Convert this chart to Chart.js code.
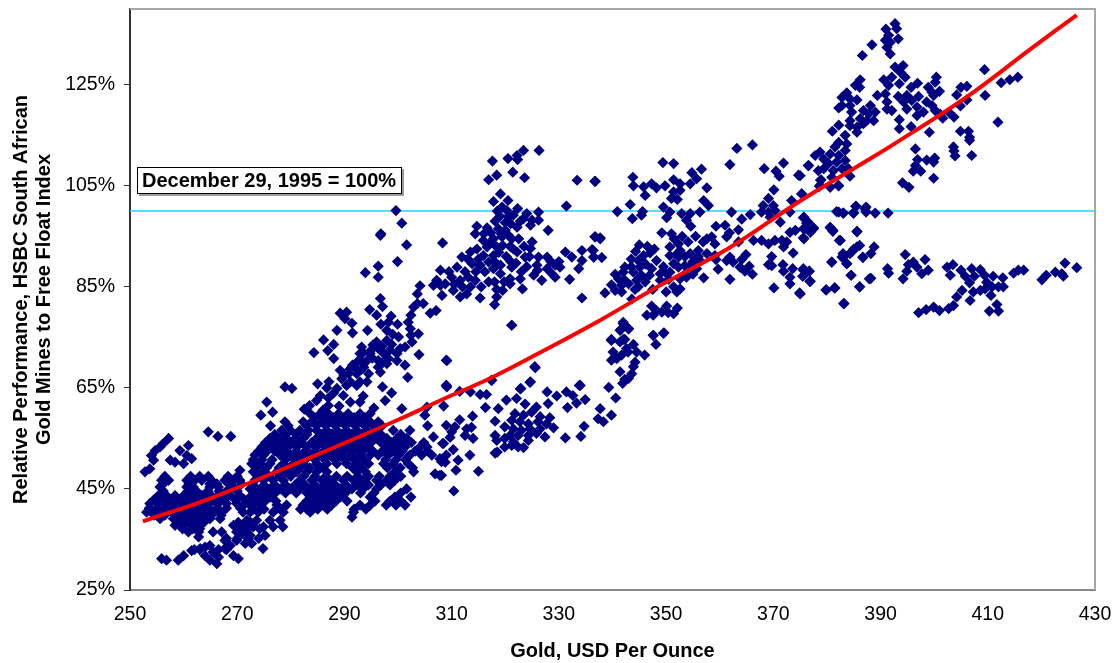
<!DOCTYPE html>
<html>
<head>
<meta charset="utf-8">
<title>Gold vs South African gold mines</title>
<script src="https://cdn.jsdelivr.net/npm/chart.js"></script>
<style>
  html, body { margin: 0; padding: 0; background: #fff; }
  canvas { display: block; }
</style>
</head>
<body>
<canvas id="chart" width="1118" height="663"></canvas>
<script>
// Tick labels
const xTicks = [250, 270, 290, 310, 330, 350, 370, 390, 410, 430];
const yTicks = [25, 45, 65, 85, 105, 125];

// Base line and fitted trend, [gold, relative performance]
const baseLine = [[250, 100], [430, 100]];
const trendLine = [[252.4, 38.6], [264.9, 43.1], [283.6, 51.2], [299.8, 58.6], [309.1, 63.1], [317.2, 66.9], [326.5, 72], [337.7, 78.4], [348.9, 85.3], [361.9, 92.8], [375, 102], [387.5, 110], [393.6, 114], [406.1, 122.6], [418.4, 132.4], [426.6, 138.8]];

// Daily readings, grouped by the part of the picture they were read from
const lowLeftArm = [[257.2,55],[256.2,54],[255.6,53.3],[254.7,52.6],[254,51.6],[254.4,50.7],[253.7,49],[252.8,48.4],[259.3,52.6],[260.9,53.6],[260.6,51.6],[261.5,51],[260,50],[258.4,50.3],[257.5,50.7],[264.6,56.3],[266.4,55.4],[268.8,55.4]];
const lowLeftBand = [[255.9,46.7],[257.2,46.7],[260.6,46.7],[262.1,46.7],[263.4,46.7],[265.2,46.7],[267.7,46.7],[269.3,46.7],[270.5,46.7],[270.5,48.7],
[255.6,45.4],[260.6,45.4],[261.8,45.4],[264.9,45.4],[266.5,45.4],[269.3,45.4],
[255.3,43.7],[256.8,43.7],[258.4,43.7],[260,43.7],[261.5,43.7],[263.4,43.7],[265.2,43.7],[266.5,43.7],[268.7,43.7],[270.5,43.7],
[253.7,42.1],[255.3,42.1],[256.8,42.1],[258.4,42.1],[260,42.1],[261.5,42.1],[263.4,42.1],[264.9,42.1],[266.5,42.1],[268,42.1],[269.9,42.1],[271.5,42.1],
[253.1,40.4],[254.7,40.4],[256.2,40.4],[257.8,40.4],[259.3,40.4],[260.9,40.4],[262.4,40.4],[264,40.4],[265.5,40.4],[267.1,40.4],[271.1,40.4],
[255.6,39.1],[258.1,39.1],[259.6,39.1],[261.2,39.1],[263.1,39.1],[264.9,39.1],[266.8,39.1],
[258.4,37.8],[260,37.8],[261.5,37.8],[262.8,37.8],[269.3,37.8],
[260.9,36.5],[262.8,36.5],[265.5,36.5],[267.1,36.5],[269.9,36.5],[271.5,36.5],[262.8,35.5]];
const lowLeftFill = [[256.5,47.5],[261.3,47.5],[263,47.5],[264.6,47.5],[268.3,47.5],[270,47.5],
[256.2,46],[261,46],[264.9,46],[266.2,46],[268.5,46],[270.8,46],
[256.2,44.6],[260.8,44.6],[262.4,44.6],[264.5,44.6],[266.6,44.6],[268,44.6],[270,44.6],
[254.5,42.9],[256,42.9],[257.6,42.9],[259.2,42.9],[260.8,42.9],[262.4,42.9],[264.2,42.9],[265.8,42.9],[267.6,42.9],[269.6,42.9],[271.3,42.9],
[253.6,41.2],[255,41.2],[256.5,41.2],[258,41.2],[259.6,41.2],[261.2,41.2],[262.8,41.2],[264.5,41.2],[266.2,41.2],[268,41.2],[270.6,41.2],
[254.5,39.8],[256.5,39.8],[258.8,39.8],[260.2,39.8],[262,39.8],[263.8,39.8],[265.2,39.8],[267,39.8],
[258.8,38.4],[260.4,38.4],[262,38.4],[263.8,38.4],[270.2,38.4],[272.5,38.4],
[259.8,37.1],[261.7,37.1],[263,37.1],[272,37.1],[274.2,37.1],[270.6,37.1],
[268,35.2],[270,35.2],[272,35.2],[274,35.2],[262,33],[263,33],[266.5,33],[268,33]];
const lowLeftBottom = [[255.9,31.2],[256.8,30.9],[259,30.9],[260,31.8],[261.5,32.8],[263.1,33.2],[264,33.5],[264.9,33.8],[264,31.8],[265.5,32.5],[264.9,30.9],[266.2,30.2],[266.5,31.5],[267.7,33.2],[268.7,33.8],[269.3,31.8],[270.2,31.2],[267.7,34.8],[269.9,34.8],[271.5,34.2],[272.7,34.2],[274.8,33.2]];
const coreTop = [[278.9,65.2],[280.2,64.9],[285,65.8],[287.1,66.2],[288.6,64.9],[290.4,65.5],[292.3,65.5],[294.2,66.2],[297.1,65.2],[298.8,64],[297.6,62.5],[289.8,63.5],[291.1,62.2],[292.9,62.2],[300.7,60.9],[305.4,61.2],[309,65.5],[286.7,65],[288,64],[285.5,63.5],[287,63],[293.5,63.4],[287,61.5],[289,61.4],[283.5,61.5],[282.5,60.8],[295.5,61],[284.8,62.5],[286,60.6]];
const coreCluster = [[275.5,62.2],[276.6,60.2],[274.4,59.6],[276.2,57.5],
[283.6,59.9],[285.5,59.9],[287,59.9],[288.9,59.9],[290.7,59.9],[292.9,59.9],[294.8,59.9],
[278.9,58.3],[282.3,58.3],[283.9,58.3],[285.8,58.3],[287.3,58.3],[289.2,58.3],[291.1,58.3],[292.9,58.3],[294.8,58.3],[296.3,58.3],
[278.3,56.6],[279.9,56.6],[281.7,56.6],[283.3,56.6],[284.8,56.6],[286.7,56.6],[288.6,56.6],[290.4,56.6],[292.3,56.6],[294.2,56.6],[295.7,56.6],[299.1,56.6],[302.2,56.6],
[276.1,55],[277.7,55],[279.2,55],[280.8,55],[282.3,55],[284.8,55],[286.7,55],[288.6,55],[290.4,55],[292.3,55],[294.2,55],[296,55],[297.9,55],[299.8,55],[301.6,55],
[274.6,53.3],[276.4,53.3],[278,53.3],[279.5,53.3],[281.1,53.3],[283,53.3],[284.8,53.3],[286.7,53.3],[288.6,53.3],[290.4,53.3],[292.3,53.3],[294.2,53.3],[297.9,53.3],[299.8,53.3],[301.3,53.3],[304.1,53.3],[305.4,53.3],
[273.3,51.7],[274.9,51.7],[278,51.7],[279.9,51.7],[281.7,51.7],[283.6,51.7],[285.5,51.7],[287.3,51.7],[289.2,51.7],[291.1,51.7],[292.9,51.7],[294.8,51.7],[296.3,51.7],[298.2,51.7],[300.1,51.7],[302.2,51.7],[304.4,51.7],[306.3,51.7],
[272.7,50],[274.3,50],[276.1,50],[278.6,50],[280.5,50],[282.3,50],[284.8,50],[286.7,50],[288.6,50],[290.4,50],[292.3,50],[294.5,50],[297.3,50],[299.1,50],[301.9,50],
[273,48.4],[274.9,48.4],[277.4,48.4],[279.2,48.4],[281.1,48.4],[283,48.4],[284.8,48.4],[286.7,48.4],[292.3,48.4],[293.9,48.4],[299.4,48.4],[302.9,48.4],
[273.3,46.7],[274.9,46.7],[276.7,46.7],[278.6,46.7],[281.7,46.7],[283.9,46.7],[285.8,46.7],[287.3,46.7],[289.8,46.7],[291.7,46.7],[293.5,46.7],[296,46.7],[297.9,46.7],[299.4,46.7],
[272.4,45],[274.3,45],[276.1,45],[278,45],[279.9,45],[281.7,45],[283.6,45],[285.5,45],[287.3,45],[289.2,45],[291.4,45],[293.5,45],[296,45],[301.6,45],
[272.4,43.4],[274.3,43.4],[276.1,43.4],[283.6,43.4],[285.5,43.4],[287.3,43.4],[289.2,43.4],[294.8,43.4],[299.4,43.4],[302.4,43.4],
[272.4,41.8],[274.3,41.8],[277.4,41.8],[279.2,41.8],[282.3,41.8],[283.9,41.8],[285.8,41.8],[287.6,41.8],[292.9,41.8],[294.8,41.8],[297.8,41.8],[299.6,41.8],[301.3,41.8],
[272.4,40.4],[273.9,40.4],[276.7,40.4],[278.6,40.4],[283.6,40.4],[291.7,40.4],[291.4,39.4],
[271.8,38.8],[273.6,38.8],[276.1,38.8],[278,38.8],
[271.1,37.5],[273,37.5],[274.9,37.5],[276.7,37.5],[278.5,37.5],
[270.5,35.8],[272.4,35.8],[275.2,35.8],
[305,59.6],[305.5,57.5],[306.6,55.3],[308.5,54],[307.8,51],[308.8,50.3],[307.8,47.7],[306.9,48],[302.7,49.2]];
const coreFill = [[284.5,59.1],[286.2,59.1],[288,59.1],[289.9,59.1],[291.8,59.1],[293.8,59.1],
[279.5,57.5],[283,57.5],[284.8,57.5],[286.5,57.5],[288.3,57.5],[290.2,57.5],[292,57.5],[293.8,57.5],[295.5,57.5],[297,57.5],
[277,55.8],[279,55.8],[281,55.8],[283,55.8],[285.7,55.8],[287.6,55.8],[289.5,55.8],[291.3,55.8],[293.2,55.8],[295,55.8],[296.8,55.8],[300.5,55.8],
[275.3,54.2],[277,54.2],[278.7,54.2],[280.3,54.2],[282,54.2],[283.9,54.2],[285.7,54.2],[287.6,54.2],[289.5,54.2],[291.3,54.2],[293.2,54.2],[295,54.2],[296.8,54.2],[298.8,54.2],[300.6,54.2],[302.5,54.2],[304.8,54.2],
[274,52.5],[275.6,52.5],[277,52.5],[279,52.5],[281,52.5],[282.7,52.5],[284.4,52.5],[286.2,52.5],[288,52.5],[289.8,52.5],[291.6,52.5],[293.4,52.5],[295.3,52.5],[297.1,52.5],[299,52.5],[300.8,52.5],[303.2,52.5],[305.5,52.5],
[273,50.8],[274.6,50.8],[276.5,50.8],[279,50.8],[280.8,50.8],[282.7,50.8],[284.5,50.8],[286.3,50.8],[288.2,50.8],[290,50.8],[291.8,50.8],[293.6,50.8],[297.7,50.8],[299.6,50.8],[301.4,50.8],
[273.6,49.2],[275.5,49.2],[277.8,49.2],[279.8,49.2],[281.7,49.2],[283.5,49.2],[285.5,49.2],[291.5,49.2],[293.2,49.2],[298,49.2],[300.4,49.2],
[274,47.5],[276,47.5],[278,47.5],[280,47.5],[282.4,47.5],[284.5,47.5],[286.5,47.5],[288.5,47.5],[290.5,47.5],[292.5,47.5],[294.5,47.5],[296.5,47.5],[298.5,47.5],[300.5,47.5],
[273,45.8],[275,45.8],[277,45.8],[279,45.8],[280.8,45.8],[282.6,45.8],[284.5,45.8],[286.4,45.8],[288.3,45.8],[290.3,45.8],[292.4,45.8],[294.5,45.8],[296.8,45.8],[298.5,45.8],
[273.4,44.2],[275.2,44.2],[277.1,44.2],[279,44.2],[281,44.2],[283,44.2],[284.5,44.2],[286.4,44.2],[288.2,44.2],[290.2,44.2],[293,44.2],[295.5,44.2],[300.5,44.2],
[273.4,42.6],[275.2,42.6],[277.2,42.6],[283,42.6],[284.8,42.6],[286.5,42.6],[288.4,42.6],[290.5,42.6],[295.7,42.6],[298.5,42.6],[300.5,42.6],
[273,41],[275,41],[278,41],[281.8,41],[283,41],[285,41],[286.8,41],[291.8,41],[294,41]];
const midLowCluster = [[321.2,77.4],[309,70.5],[325.5,69.2],[317.4,66.5],[309,65.5],[324.6,66.1],[322.9,64.9],[311.5,64.3],[313.5,64.2],[315.3,63.7],[316.5,63.7],[320.2,62.6],[322.1,62.9],[327.8,64.2],[329.6,63.4],[328,61.9],[331.4,64.2],[332.6,63.5],[333.8,65.5],[334.9,62.7],[333.3,62],[331.6,61.1],[308.5,61.4],[316.3,61.1],[318.7,60.9],[323.7,61.8],[325.8,61.2],[313.9,59.4],[311.5,58.7],[309,57.6],[310.6,57.3],[310,56.3],[309.7,55.2],[312.8,56.9],[313.7,57.2],[312.5,55.6],[314,55],[308.3,54],[310.3,52.8],[309,51.7],[311.2,50.7],[310.8,48.7],[308.1,47.7],[313.4,51.7],[315,48.5],[310.4,44.6],[308.1,50.4],[318.1,58.4],
[321.8,59.9],[323.4,59.6],[324.9,60.2],[326.5,59.3],[328.3,59.1],[321.2,58.6],[322.7,58.3],[324.3,57.9],[326.1,58.3],[327.7,57.9],[319.9,57.3],[321.5,56.9],[323,56.6],[324.6,56.9],[326.5,56.9],[329,57.1],[320.9,55.6],[322.4,55.6],[324.3,55.6],[325.8,56],[327.4,55.3],[318.1,55.6],[318.4,54.6],[319.9,55],[321.5,54.3],[324.3,54.6],[319.9,53.3],[321.2,53.6],[322.4,53.3],[323.4,53.2],[318.1,52.1],[318.5,52.3],[331.2,55.1],[334.1,55.4],[334.7,57.4]];
const riseColumn = [[337.7,60.9],[337.3,58.9],[338.3,58.3],[339.8,59.6],[340.6,63],[339.3,65.1],[341.9,65.9],[343,66.9],[343.6,67.8],[341.4,68.2],[343.9,69.2],[344.2,70.1],[339.8,70.5],[340.8,70.8],[341.7,71.5],[340.1,72.1],[342.9,72.1],[344.5,72.1],[346,71.5],[343.9,73.6],[342.6,72.8],[339.8,74.4],[341.4,74.1],[342.3,74.6],[341.4,76.4],[343,76.7],[342,77.7],[347.6,75.4],[349.5,75.8],[348.1,73.6],[342.3,66.7]];
const upperArmLow = [[299.6,100.1],[300.7,97.6],[296.8,95.5],[296.7,95.2],[301.6,93.3],[299.9,90],[296.3,89.1],[293.9,87.8],[296.3,86.9],[296.7,82.7],[297.1,81.1],[294.7,80.5],[296,79.4],[289.2,79.8],[290.4,80],[290.1,78.7],[291.4,77.8],[298.7,79.2],[298.2,78],[296.8,77.6],[299.9,77.6],[288.6,76.4],[291.5,75.9],[294.3,76.4],[297.9,76.4],[299,75.6],[300.1,75.1],[286.1,74.5],[297.9,74.4],[288,73.6],[286.9,72.4],[284.3,72],[288,70.8],
[293.2,73.1],[296,74.1],[296.3,72.8],[292.9,71.8],[294.8,71.8],[297.3,71.8],[300.4,72.8],[301.3,73.1],[299.8,71.8],[292.6,70.4],[294.2,70.4],[296.3,70.4],[298.2,70.8],[299.8,70.4],[292,69.1],[293.6,69.1],[296.3,69.1],[297.9,69.8],[301.3,69.5],[289.2,68.5],[290.8,67.8],[292.3,67.8],[294.5,67.8],[296.7,68.1],[289.5,66.8],[291.1,66.2],[292.9,66.2],[301.8,67.1],[303.9,71.6],[309.1,70.4],
[291,68.7],[293,70.5],[295,72.5],[297,73.2],[298.5,72.5],[289.9,67.5],[291.5,69.5],[293.5,72],[295.3,73.5],[298.8,73.6],[295.2,70.9],[297,69.9],[293.2,68.7]];
const upperArmHigh = [[302.6,74.1],[302.4,75.4],[303.8,75.7],[302.3,76.7],[301.9,78],[302.4,79.4],[302.9,81],[303.6,81.7],[304.7,81.7],[303.6,83.6],[304.1,85.2],[306,79.8],[307.1,80.3],[308.2,83.3],[306.6,85.3],[307.9,85.3],[307.9,88.3],[307.2,86.3],[308.8,85.6],[310,86.9],[310.3,84.3],[311.6,86.3],[311.6,83],[312.8,83.6],[313.1,86.9],[314.4,86.3],[311,88.9],[311.9,90.9],[313.5,91.9],[313.8,89.6],[315.3,89.3],[314.7,92.5],[316.9,86],[315.3,82.8],[308.3,93.7],[314.7,97],[314.4,95.5],[316.6,96.7],[318.1,98],[318.7,96.5],[320,96.2],[315.9,94.2],[317.8,94.5],[319.4,94.9],[321.2,94.5],[322.5,94.5],[316.6,92.9],[318.4,92.9],[320.9,93],[315.9,91.2],[317.8,91.2],[322.2,91.9],[316.9,89.9],[319.1,89.3],[317.8,88.6],[319.1,87.6],[321.2,88.9],[320.9,86.6],[322.8,86.6],[318.4,84.5],[320.9,85.6],[319.5,84.3],[318.4,83],[318,81.5],[323.2,84.6],[321.2,77.4],[325.6,69],[317.5,66.5],[324.7,66.2],[309.1,65.2],[322.8,64.8],[334,65.5],
[323.4,112],[326.3,112],[322.2,111],[320.5,110.4],[322.3,110.2],[317.6,109.9],[321.4,107.7],[323.6,106.6],[318.4,107.1],[316.9,106.2],[319.1,103.4],[317.8,101.9],[320.5,102.1],[319.4,100.8],[320.3,100.1],[322.3,100.5],[321.5,99.2],[320.6,99],[323.4,98.5],[326.2,99.8],[326.2,98.2],[325,98.2],[324.7,97.2],[322.2,96.8],[328,96.2],[331.4,101],[333.4,106.1],[336.8,105.9],
[325,93.9],[324.7,92.6],[323.7,90.9],[326.2,90.9],[327.8,90.9],[325.9,89.3],[327.8,88.6],[325.3,87.3],[326.8,86.3],[329.3,89.3],[330.2,88.9],[329.3,86.9],[332,86.5],[331.2,91.9],[332.4,90.9],[334.3,90.2],[333.7,88.6],[334.3,92.2],[336.2,92.4],[336.5,90.9],[336.8,94.9],[337.7,94.5],[334.3,82.8]];
const upperArmFill = [[316,95.5],[317.3,95.7],[319.2,95.5],[320.5,95.3],[317.2,93.7],[319.5,93.2],[321.5,92.5],[318.8,91.8],[320.2,91],[318,90],[321,90],[322,89.7],[323.5,93],[324,89],[315,90.5],[313,90.5],[312.5,88],[314.5,88],[316.2,88],[312,85],[313.5,85],[315.5,85],[310.5,85.5],[309.5,88],[319.8,86],[318,86],[323,88],[326,88.3],[324.5,91],[328.5,90],[328.7,87.6],[330,90],[320,97.7],[321,97.5],[322.8,98],[324,99.5],[319,99],[318.5,100]];
const centerCluster = [[336.7,105.9],[363.2,112.4],[366.1,113.1],[349.4,109.6],[351.4,109.4],[361.9,109.2],[356.6,108.3],[354.8,107.6],[355.7,106.4],[343.8,106.7],[343.9,105],[345.8,104.8],[347.3,105.4],[348.2,104.6],[349.8,105],[346.1,103.1],[351.4,106.2],[352.6,105.4],[354.5,105.4],[351.4,103.8],[352.6,104.1],[351,102.5],[352.1,102.3],[357.6,104.6],[357,102.1],[357.9,101.1],[343.3,101.3],[340.9,99.9],[345.6,99.9],[345.4,99.2],[343.7,98.5],[349.5,100.8],[350.7,99.8],[350.1,98.7],[352.9,99.5],[354.5,99.5],[353.8,98.2],[354.6,97],[356.3,99.8],[362.2,99.8],[365.7,99.3],[364.1,98.4],[359.3,97],[361,97.2],[363.5,96.3],[361.8,95.7],[361.3,94.9],[349.2,95.7],[351,95.5],[336.7,94.9],[337.7,94.7],[336.4,92.2],[336.5,90.9],[338,90.8],[344.3,92],[354.1,93.9],[352.3,93.5],[350.7,92.9],[352.6,92.2],[354.5,91.6],[356,92.2],[357.6,94.5],[358.5,94.9],[356.9,93.9],[359.1,93.5],[350.7,91.2],[352.3,90.9],[357.6,91.6],[359.1,91.2],[363.5,93.9],[366.3,94.2],[367.8,94.2],[369.1,93.5],[370.3,94.2],[371.6,94.2],[372.5,93.9],[371.9,92.9],[373.7,91.7],[364.9,91.4],[364.1,90.4],[361.9,90.9],[361.3,90.2],[362.5,89.9],[359.7,88.5],[356.3,90.2],[359.3,90.4],[357,86.8],[361.9,86.5],[363.8,88.9],[365.5,89.1],[364.7,88.1],[366.1,87.5],[369.7,91],[369.1,89.4],[369.7,89.2],[371.8,89.4],[371.9,88.1],[373.6,88.6],[373.1,86.9],[373.1,85.6],[375.6,88.6],[376.7,88.1],[375.5,87.1],[376.8,86.1],[370.1,84.8],[374.9,83.8],[379.8,84.4],[381.5,84.8],[383.2,81.7],[386.1,85],[380.9,89.9],[383.7,89.6],[384.5,87.3],[387.9,86.6],[386.7,90.9],[385.6,92.9],[384.6,91.9],[383.1,90.9],[382.5,94.2],[380.6,96.7],[381.1,96],[385.6,96],[375.6,98.7],[376.5,97.8],[377.5,96.7],[375.9,96.5],[375.6,94.7],[374.1,96.2],[373.1,95.8],[371.3,97.8],[381.8,99.9],[383.1,99.6],[384.9,99.6],[385.4,101],[387.1,100.5],[369.1,102.5],[368.1,101.1],[370,101.1],[367.8,99.8],[369.1,99.8],[370.3,100.1],[369.4,98.8],[373.4,102.1],[373.1,99.8],[375.3,103.4],[370.1,104.2],[374.7,107.1],[370.5,107.9],[371.1,106.9],[368.3,108.4],[371.9,109.5],[376.5,109],[382.1,105.1],[378.8,106.1],[378.7,105.1]];
const centerLower = [[347,91.7],[345.8,91.2],[344.8,90.2],[348.2,90.2],[345.1,88.9],[342.3,88.9],[347.3,88.6],[342,87.9],[343.9,87.9],[345.4,87.3],[346.9,87.3],[348.9,87.6],[341.1,86.6],[342.3,86.3],[344.5,86.3],[346.1,86],[348.9,86.3],[339.8,85.4],[341.7,85.3],[343,85.6],[344.8,85],[341.7,84],[338.6,83.8],[343.6,82.6],[350,84],[350.7,87.9],[352.3,88.9],[353.5,89.2],[351.4,89.6],[350.1,87.6],[354.5,89.2],[352.6,86.6],[351.4,85],[352.6,84.6],[353.8,86.9],[355.7,88.6],[347.3,81.2],[348.2,80.3],[350.1,81.2],[349.2,80],[350.4,79.9],[352.1,80.8],[351.4,79.7],[347.6,79.4],[346.4,79.4],[342,78],[343,76.7],[341.7,76.7],[339.8,74.6],[342,74.6],[347.6,75.4],[349.6,75.9],
[346.5,93],[345,93.3],[347.8,92.5],[343.5,90.5],[346.2,89.5],[343.5,89],[340.5,87.5],[344.2,84.5],[340.5,84.3],[347.5,84.5],[349.5,89],[352,91.5],[353.5,91],[355,90],[356,91],[353,95],[355.5,95],[351.5,94.5],[353.5,87.5],[355,87.5],[350.5,86.5],[352,84]];
const upperRight = [[392.7,137.1],[391,136],[393,136.1],[391.5,134.8],[393.3,134.1],[390.9,133.8],[391.8,133.4],[391.2,132.4],[391.8,131.1],[388.4,132.9],[386.6,130.8],[394.2,128.8],[392.7,128.5],[393.7,127.5],[394.6,126.5],[392.1,126.5],[390.6,126],[393.5,125.2],[391.5,124.9],[386.2,126],[385.3,124.9],[386.1,124.5],[400.4,126.5],[400.2,125.5],[396.9,125.3],[395.7,124.5],[398.9,124.5],[399.6,123.5],[401,123.7],[389.4,122.9],[390.9,123.2],[383.7,123.4],[382.8,122.5],[384.3,122.2],[385.6,122],[393.3,122.7],[394.9,122.9],[397.1,122.7],[399.9,122.9],[391.2,121.6],[394.3,121.6],[395.8,121.9],[398.6,121.6],[382.8,120.9],[382.2,120.4],[384.3,120.9],[391.2,120.2],[394.9,120.2],[396.8,120.6],[399.6,120.9],[392.1,119.9],[388.1,120.9],[386.8,119.9],[389,119.6],[384.6,119.6],[387.8,119.3],[398,119.6],[396.8,118.9],[400.2,119.9],[401.1,119.2],[384.3,117.9],[386.2,118.3],[387.4,117.9],[388.7,117.9],[385.6,116.6],[384.3,116.9],[386.8,117.3],[385.6,115.6],[382.2,117],[381,115.8],[393.5,118.1],[393.5,116.3],[395.7,116.7],[399.1,115.6],[401.6,118.4],[402.9,119.4],[403.7,118.6],[404.9,120.8],[404.2,123],[405,124.5],[406.1,124.7],[406.1,122],[409.4,128],[409.5,122.9],[412.5,125.4],[414.1,126],[415.6,126.5],[411.9,117.6],[404.9,115.8],[406.4,115.8],[406.6,114.6],[406.6,114],[396.5,112.3],[403.6,112.7],[403.7,111.9],[403.9,110.9],[407,111],[396.9,110.2],[398.6,110.1],[400.1,110.5],[399.9,109.7],[396.5,109],[396.1,107.9],[397.5,107.9],[399.9,106.5],[394.1,105.6],[395.3,104.7]];
const upperRightLow = [[383.4,115],[382.2,113.6],[383.7,113.3],[381.5,112.7],[383.4,112],[378.7,111.7],[380.6,111.3],[382.2,111],[377.8,111],[379.4,110.3],[376.6,109],[378.4,108],[380.3,109.4],[381.8,109.7],[383.4,110],[379.4,108.4],[381.2,108],[382.8,108.4],[384,108.4],[380.9,106.7],[384.3,106.9],[378.9,106.2],[378.6,104.9],[380.6,104.7],[382.2,105],[375.3,103.4],[375,107]];
const lowerRight = [[382.2,99.8],[383,99.6],[385,99.6],[385.4,100.9],[387.3,100.8],[387.3,99.8],[389,99.6],[391.4,99.6],[375.7,98.8],[376.2,97.6],[377.5,96.5],[376.9,95.8],[375.6,96.5],[375.7,94.5],[380.6,96.8],[381.1,96.2],[385.6,95.9],[382.3,94.2],[386.1,93.2],[385,92.5],[388.8,92.9],[388.2,91.6],[383,91.6],[384.3,91.6],[382.8,90.9],[386.7,90.8],[383.7,89.6],[380.9,89.9],[394.6,91.4],[398.3,90.4],[396.1,89.9],[395.2,89.4],[396.8,88.9],[394.9,88.1],[391.3,88.6],[391.5,87.7],[398.9,88.3],[397.7,87.6],[394.2,86.6],[388.2,86.7],[384.5,87.3],[386.1,85],[381.4,84.8],[379.9,84.4],[383.1,81.7],[376.9,86.1],[375.6,88.3],[376.7,88.1],[375.5,87.1],[375,83.6],
[403.5,89.4],[402.4,88.9],[403,87.3],[405,88.3],[405.8,87.1],[407,88.6],[407.5,87.1],[408.6,88.4],[409.4,87.3],[411,87.1],[412.8,86.8],[406.6,85.8],[409.8,85.9],[410.8,85],[412.9,85],[412,85],[405.2,84.3],[404.2,83],[407.3,84],[408.6,84.3],[409.5,84.6],[410.6,83.3],[406.7,82.3],[411.7,81.5],[412,80.2],[410.3,80.2],[403.6,81.3],[402.7,80.7],[401,80.3],[399.9,81],[398.5,80.5],[397.1,79.9],[414.8,87.7],[415.7,88.3],[416.7,88.3],[420.1,86.4],[420.9,87.3],[422.6,87.9],[424.1,87.1],[424.4,89.7],[426.6,88.8],[423.8,87.6]];

const readings = [lowLeftArm, lowLeftBand, lowLeftFill, lowLeftBottom, coreTop, coreCluster, coreFill, midLowCluster, riseColumn, upperArmLow, upperArmHigh, upperArmFill, centerCluster, centerLower, upperRight, upperRightLow, lowerRight].flat();

const toXY = p => ({ x: p[0], y: p[1] });
const fontName = '"Liberation Sans", Arial, sans-serif';

// Top and right frame, and the text box over the plot
const framePlugin = {
  id: 'frame',
  afterDraw(chart) {
    const { ctx, chartArea: a } = chart;
    ctx.save();
    ctx.strokeStyle = '#a6a6a6';
    ctx.lineWidth = 2;
    ctx.beginPath();
    ctx.moveTo(a.left, a.top);
    ctx.lineTo(a.right, a.top);
    ctx.lineTo(a.right, a.bottom);
    ctx.stroke();

    // note box with a soft shadow on the right and bottom
    ctx.fillStyle = '#9a9a9a';
    ctx.fillRect(139, 169, 265, 27);
    ctx.fillStyle = '#fff';
    ctx.fillRect(137, 167, 265, 27);
    ctx.strokeStyle = '#000';
    ctx.lineWidth = 1;
    ctx.strokeRect(137.5, 167.5, 264, 26);
    ctx.fillStyle = '#000';
    ctx.font = 'bold 20px ' + fontName;
    ctx.textBaseline = 'middle';
    ctx.fillText('December 29, 1995 = 100%', 142, 181);
    ctx.restore();
  }
};

new Chart(document.getElementById('chart'), {
  type: 'scatter',
  data: {
    datasets: [
      {
        label: 'Trend',
        type: 'line',
        data: trendLine.map(toXY),
        borderColor: '#ff0000',
        borderWidth: 4,
        pointRadius: 0,
        tension: 0.4,
        order: 1
      },
      {
        label: 'Readings',
        data: readings.map(toXY),
        pointStyle: 'rectRot',
        pointRadius: 5.6,
        pointBorderWidth: 0,
        backgroundColor: '#000080',
        borderColor: '#000080',
        order: 2
      },
      {
        label: 'Base',
        type: 'line',
        data: baseLine.map(toXY),
        borderColor: '#22d3ff',
        borderWidth: 1.5,
        pointRadius: 0,
        order: 3
      }
    ]
  },
  options: {
    responsive: false,
    animation: false,
    layout: { padding: { top: 9, right: 23, left: 0, bottom: 0 } },
    plugins: { legend: { display: false }, tooltip: { enabled: false } },
    scales: {
      x: {
        type: 'linear',
        min: 250,
        max: 430,
        afterBuildTicks: s => { s.ticks = xTicks.map(v => ({ value: v })); },
        afterFit: s => { s.height = 73; s.paddingLeft = 0; s.paddingRight = 0; },
        border: { color: '#888888', width: 2 },
        grid: { display: false },
        ticks: { color: '#000', font: { family: fontName, size: 19.5 }, padding: 5, maxRotation: 0, autoSkip: false },
        title: { display: true, text: 'Gold, USD Per Ounce', color: '#000', font: { family: fontName, size: 20, weight: 'bold' }, padding: { top: 7, bottom: 0 } }
      },
      y: {
        min: 25,
        max: 140,
        afterBuildTicks: s => { s.ticks = yTicks.map(v => ({ value: v })); },
        afterFit: s => { s.width = 130; s.paddingTop = 0; s.paddingBottom = 0; },
        border: { color: '#333333', width: 2 },
        grid: { drawOnChartArea: false, drawTicks: true, tickLength: 6, color: '#333333' },
        ticks: { color: '#000', font: { family: fontName, size: 19.5 }, padding: 9, autoSkip: false, callback: v => v + '%' },
        title: {
          display: true,
          text: ['Relative Performance, HSBC South African', 'Gold Mines to Free Float Index'],
          color: '#000',
          font: { family: fontName, size: 20, weight: 'bold', lineHeight: 1.15 },
          padding: { top: 10, bottom: 0 }
        }
      }
    }
  },
  plugins: [framePlugin]
});
</script>
</body>
</html>
